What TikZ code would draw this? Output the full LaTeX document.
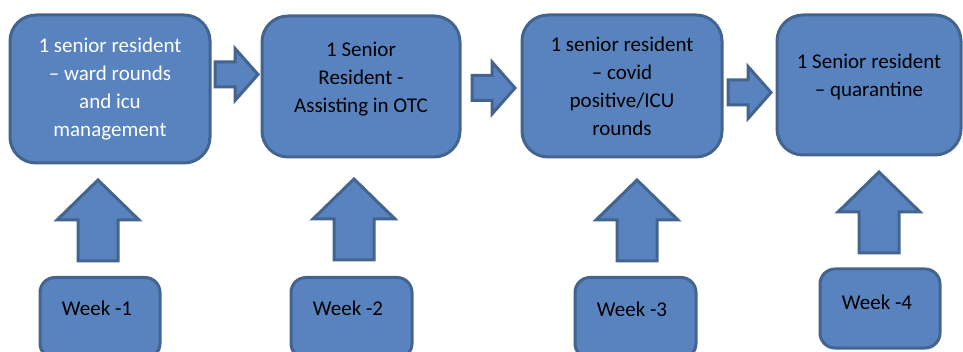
\documentclass[tikz,border=0pt]{standalone}
\usepackage{fontspec}
\setmainfont{Carlito}
\definecolor{boxfill}{RGB}{89,131,190}
\definecolor{boxline}{RGB}{67,100,143}
\begin{document}
\begin{tikzpicture}[x=1pt,y=-1pt,
  blk/.style={fill=boxfill,draw=boxline,line width=3pt,line join=miter},
  bigbox/.style={blk,rectangle,rounded corners=26pt,inner sep=0pt},
  weekbox/.style={blk,rectangle,rounded corners=15pt,inner sep=0pt,minimum width=120pt,minimum height=81pt},
  txt/.style={align=center,font=\fontsize{21}{28}\selectfont,inner sep=0pt},
  uparr/.pic={\path[blk] (-20,0) -- (-20,-41) -- (-41,-41) -- (0,-81) -- (41,-41) -- (20,-41) -- (20,0) -- cycle;},
  rtarr/.pic={\path[blk] (0,-12.5) -- (20,-12.5) -- (20,-26) -- (43,0) -- (20,26) -- (20,12.5) -- (0,12.5) -- cycle;}
]
\useasboundingbox (0,0) rectangle (963,352);
% top boxes
\node[bigbox,minimum width=200pt,minimum height=148pt] (b1) at (110,89) {};
\node[bigbox,minimum width=198pt,minimum height=141pt] (b2) at (361,86.5) {};
\node[bigbox,minimum width=200pt,minimum height=142pt] (b3) at (622,86) {};
\node[bigbox,minimum width=184pt,minimum height=140pt] (b4) at (869,85) {};
\node[txt,text=white] (t1) at (110,89) {1 senior resident\\– ward rounds\\and icu\\management};
\node[txt] (t2) at (361,79) {1 Senior\\Resident -\\Assisting in OTC};
\node[txt] (t3) at (622,86.5) {1 senior resident\\– covid\\positive/ICU\\rounds};
\node[txt] (t4) at (869,77) {1 Senior resident\\– quarantine};
% right arrows
\pic at (215,74.5) {rtarr};
\pic at (472,88) {rtarr};
\pic at (728,92.5) {rtarr};
% up arrows
\pic at (98,261) {uparr};
\pic at (354,260) {uparr};
\pic at (637,261) {uparr};
\pic at (879,253) {uparr};
% week boxes
\node[weekbox] (w1) at (100,318) {};
\node[weekbox,minimum width=121pt] (w2) at (351.5,318) {};
\node[weekbox,minimum width=121pt] (w3) at (635.5,318) {};
\node[weekbox,minimum height=79pt] (w4) at (880,308.5) {};
\node[txt] (l1) at (97,308) {Week -1};
\node[txt] (l2) at (348,308) {Week -2};
\node[txt] (l3) at (632,309) {Week -3};
\node[txt] (l4) at (877,302) {Week -4};
\end{tikzpicture}
\end{document}
